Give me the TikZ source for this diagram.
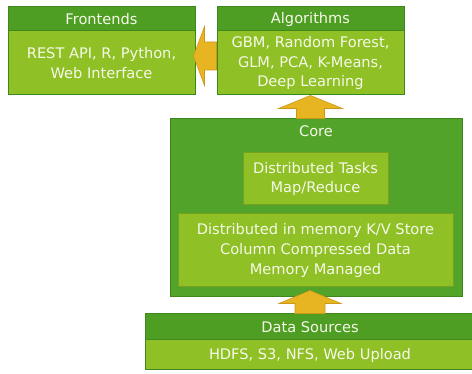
\documentclass[tikz,border=0pt]{standalone}
\usepackage{fontspec}
\setmainfont{DejaVu Sans}
\usetikzlibrary{calc}
\definecolor{hdgreen}{RGB}{78,158,36}
\definecolor{bdgreen}{RGB}{143,192,38}
\definecolor{coregreen}{RGB}{82,163,41}
\definecolor{edgegreen}{RGB}{62,135,28}
\definecolor{olivegreen}{RGB}{118,160,30}
\definecolor{arrowyellow}{RGB}{232,181,34}
\definecolor{arrowedge}{RGB}{204,152,24}
\definecolor{txtwhite}{RGB}{246,249,232}
% from, to, half shaft, half head, head length
\newcommand{\blockarrow}[5]{%
  \coordinate (ba-base) at ($(#2)!#5!(#1)$);
  \draw[arrowfill] ($(#1)!#3!90:(#2)$) -- ($(ba-base)!#3!90:(#2)$) -- ($(ba-base)!#4!90:(#2)$) -- (#2)
    -- ($(ba-base)!#4!-90:(#2)$) -- ($(ba-base)!#3!-90:(#2)$) -- ($(#1)!#3!-90:(#2)$) -- cycle;}
\begin{document}
\begin{tikzpicture}[x=1pt, y=-1pt,
  box/.style={rectangle, draw=edgegreen, line width=1pt, inner sep=0pt, text=txtwhite, align=center, font=\fontsize{14.6}{19.8}\selectfont},
  headbox/.style={box, fill=hdgreen},
  bodybox/.style={box, fill=bdgreen},
  innerbox/.style={box, fill=bdgreen, draw=olivegreen},
  arrowfill/.style={fill=arrowyellow, draw=arrowedge, line width=0.6pt, line join=miter}]
\useasboundingbox (0,0) rectangle (472,374);
\node[headbox, minimum width=187pt, minimum height=24pt] (fronthead) at (101.5,19) {Frontends};
\node[bodybox, minimum width=187pt, minimum height=64pt] (frontbody) at (101.5,63) {REST API, R, Python,\\Web Interface};
\node[headbox, minimum width=187pt, minimum height=24pt] (alghead) at (310.5,19) {Algorithms};
\node[bodybox, minimum width=187pt, minimum height=64pt] (algbody) at (310.5,63) {GBM, Random Forest,\\GLM, PCA, K-Means,\\Deep Learning};
\node[box, fill=coregreen, minimum width=292pt, minimum height=178pt] (core) at (316,208) {};
\node[box, draw=none] (coretitle) at (316,131) {Core};
\node[innerbox, minimum width=145pt, minimum height=52pt] (tasks) at (315.5,179) {Distributed Tasks\\Map/Reduce};
\node[innerbox, minimum width=275pt, minimum height=73pt] (store) at (315.5,250.5) {Distributed in memory K/V Store\\Column Compressed Data\\Memory Managed};
\node[headbox, minimum width=330pt, minimum height=26pt] (datahead) at (310,327) {Data Sources};
\node[bodybox, minimum width=330pt, minimum height=30pt] (databody) at (310,355) {HDFS, S3, NFS, Web Upload};
\coordinate (algout) at ([yshift=7pt]algbody.west);
\coordinate (frontin) at ([xshift=-2pt, yshift=7pt]frontbody.east);
\coordinate (coreout) at (algbody.south |- core.north);
\coordinate (algin) at (algbody.south);
\coordinate (dataout) at (datahead.north);
\coordinate (corein) at ([yshift=7pt]datahead.north |- core.south);
\blockarrow{algout}{frontin}{14pt}{29.5pt}{11pt}
\blockarrow{coreout}{algin}{14pt}{32pt}{13pt}
\blockarrow{dataout}{corein}{15pt}{31pt}{13pt}
\end{tikzpicture}
\end{document}
